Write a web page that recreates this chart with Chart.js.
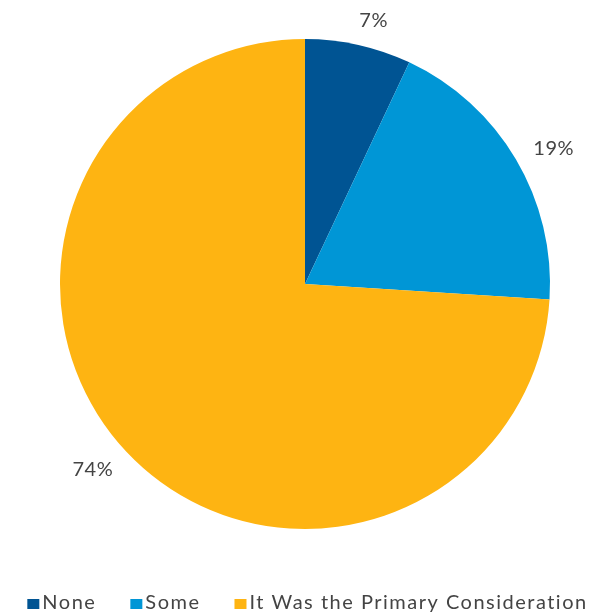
<!DOCTYPE html>
<html>
<head>
<meta charset="utf-8">
<script src="https://cdn.jsdelivr.net/npm/chart.js@4.4.1/dist/chart.umd.min.js"></script>
<style>
  html, body { margin: 0; padding: 0; background: #fff; }
  #wrap { width: 605px; height: 616px; position: relative; }
</style>
</head>
<body>
<div id="wrap"><canvas id="myChart"></canvas></div>
<script>
"use strict";
const categories = ['None', 'Some', 'It Was the Primary Consideration'];
const shares = [7, 19, 74];
const sliceColors = ['rgb(0, 84, 147)', 'rgb(0, 150, 214)', 'rgb(254, 180, 18)'];

const textColor = '#444444';

// percent labels just outside each slice
const sliceLabels = {
  id: 'sliceLabels',
  afterDatasetsDraw(chart) {
    const ctx = chart.ctx;
    const meta = chart.getDatasetMeta(0);
    ctx.save();
    ctx.font = '20px Lato';
    ctx.letterSpacing = '0.5px';
    ctx.fillStyle = textColor;
    ctx.textAlign = 'center';
    ctx.textBaseline = 'middle';
    meta.data.forEach((arc, i) => {
      const mid = (arc.startAngle + arc.endAngle) / 2 + 0.035;
      const dx = Math.cos(mid);
      const dy = Math.sin(mid);
      const text = shares[i] + '%';
      const w = ctx.measureText(text).width;
      const off = arc.outerRadius + 17 + Math.abs(dx) * w / 2 + Math.abs(dy) * 7;
      ctx.fillText(text, arc.x + dx * off, arc.y + dy * off);
    });
    ctx.restore();
  }
};

// legend row at the bottom, small square + label
const bottomLegend = {
  id: 'bottomLegend',
  afterDraw(chart) {
    const ctx = chart.ctx;
    const colors = chart.data.datasets[0].backgroundColor;
    const labels = chart.data.labels;
    ctx.save();
    ctx.font = '20px Lato';
    ctx.letterSpacing = '1.5px';
    const box = 12, boxGap = 3, itemGap = 34;
    const widths = labels.map(t => ctx.measureText(t).width);
    const total = widths.reduce((a, w) => a + box + boxGap + w, 0) + itemGap * (labels.length - 1);
    let x = (chart.width - total) / 2 + 5;
    const y = 603;
    ctx.textBaseline = 'middle';
    ctx.textAlign = 'left';
    labels.forEach((t, i) => {
      ctx.fillStyle = colors[i];
      ctx.fillRect(x, y - 4, box, 10);
      x += box + boxGap;
      ctx.fillStyle = textColor;
      ctx.fillText(t, x, y);
      x += widths[i] + itemGap;
    });
    ctx.restore();
  }
};

const myChart = new Chart(document.getElementById('myChart'), {
  type: 'pie',
  plugins: [sliceLabels, bottomLegend],
  data: {
    labels: categories,
    datasets: [{
      data: shares,
      backgroundColor: sliceColors,
      borderWidth: 0
    }]
  },
  options: {
    responsive: true,
    maintainAspectRatio: false,
    animation: false,
    layout: {
      padding: { top: 39, left: 5, right: 0, bottom: 87 }
    },
    plugins: {
      legend: { display: false },
      tooltip: { enabled: false }
    }
  }
});
</script>
</body>
</html>
